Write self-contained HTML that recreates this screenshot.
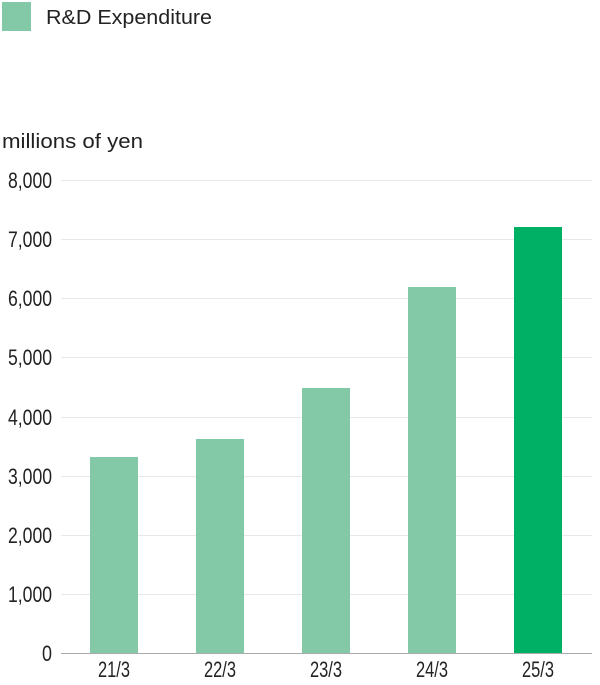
<!DOCTYPE html>
<html><head><meta charset="utf-8"><style>
body{margin:0;background:#fff;width:600px;height:680px;overflow:hidden}
svg text{font-family:"Liberation Sans",sans-serif;fill:#222}
</style></head><body>
<svg width="600" height="680" xmlns="http://www.w3.org/2000/svg">
<rect x="2" y="2" width="29" height="29" fill="#84c9a7"/>
<text x="46" y="24" font-size="20" textLength="166" lengthAdjust="spacingAndGlyphs">R&amp;D Expenditure</text>
<text x="2" y="148" font-size="20" textLength="141" lengthAdjust="spacingAndGlyphs">millions of yen</text>
<g stroke="#e8e8e8" stroke-width="1">
<line x1="61" x2="592" y1="180.5" y2="180.5"/>
<line x1="61" x2="592" y1="239.5" y2="239.5"/>
<line x1="61" x2="592" y1="298.5" y2="298.5"/>
<line x1="61" x2="592" y1="357.5" y2="357.5"/>
<line x1="61" x2="592" y1="417.5" y2="417.5"/>
<line x1="61" x2="592" y1="476.5" y2="476.5"/>
<line x1="61" x2="592" y1="535.5" y2="535.5"/>
<line x1="61" x2="592" y1="594.5" y2="594.5"/>
</g>
<g font-size="22" text-anchor="end">
<text x="52" y="188" textLength="44" lengthAdjust="spacingAndGlyphs">8,000</text>
<text x="52" y="247" textLength="44" lengthAdjust="spacingAndGlyphs">7,000</text>
<text x="52" y="306" textLength="44" lengthAdjust="spacingAndGlyphs">6,000</text>
<text x="52" y="365" textLength="44" lengthAdjust="spacingAndGlyphs">5,000</text>
<text x="52" y="425" textLength="44" lengthAdjust="spacingAndGlyphs">4,000</text>
<text x="52" y="484" textLength="44" lengthAdjust="spacingAndGlyphs">3,000</text>
<text x="52" y="543" textLength="44" lengthAdjust="spacingAndGlyphs">2,000</text>
<text x="52" y="602" textLength="44" lengthAdjust="spacingAndGlyphs">1,000</text>
<text x="52" y="661" textLength="10" lengthAdjust="spacingAndGlyphs">0</text>
</g>
<rect x="90" y="457" width="48" height="196" fill="#84c9a7"/>
<rect x="196" y="439" width="48" height="214" fill="#84c9a7"/>
<rect x="302" y="388" width="48" height="265" fill="#84c9a7"/>
<rect x="408" y="287" width="48" height="366" fill="#84c9a7"/>
<rect x="514" y="227" width="48" height="426" fill="#00b064"/>
<line x1="61" x2="592" y1="653.5" y2="653.5" stroke="#aaa" stroke-width="1"/>
<g font-size="22" text-anchor="middle">
<text x="114" y="677" textLength="32" lengthAdjust="spacingAndGlyphs">21/3</text>
<text x="220" y="677" textLength="32" lengthAdjust="spacingAndGlyphs">22/3</text>
<text x="326" y="677" textLength="32" lengthAdjust="spacingAndGlyphs">23/3</text>
<text x="432" y="677" textLength="32" lengthAdjust="spacingAndGlyphs">24/3</text>
<text x="538" y="677" textLength="32" lengthAdjust="spacingAndGlyphs">25/3</text>
</g>
</svg>
</body></html>
